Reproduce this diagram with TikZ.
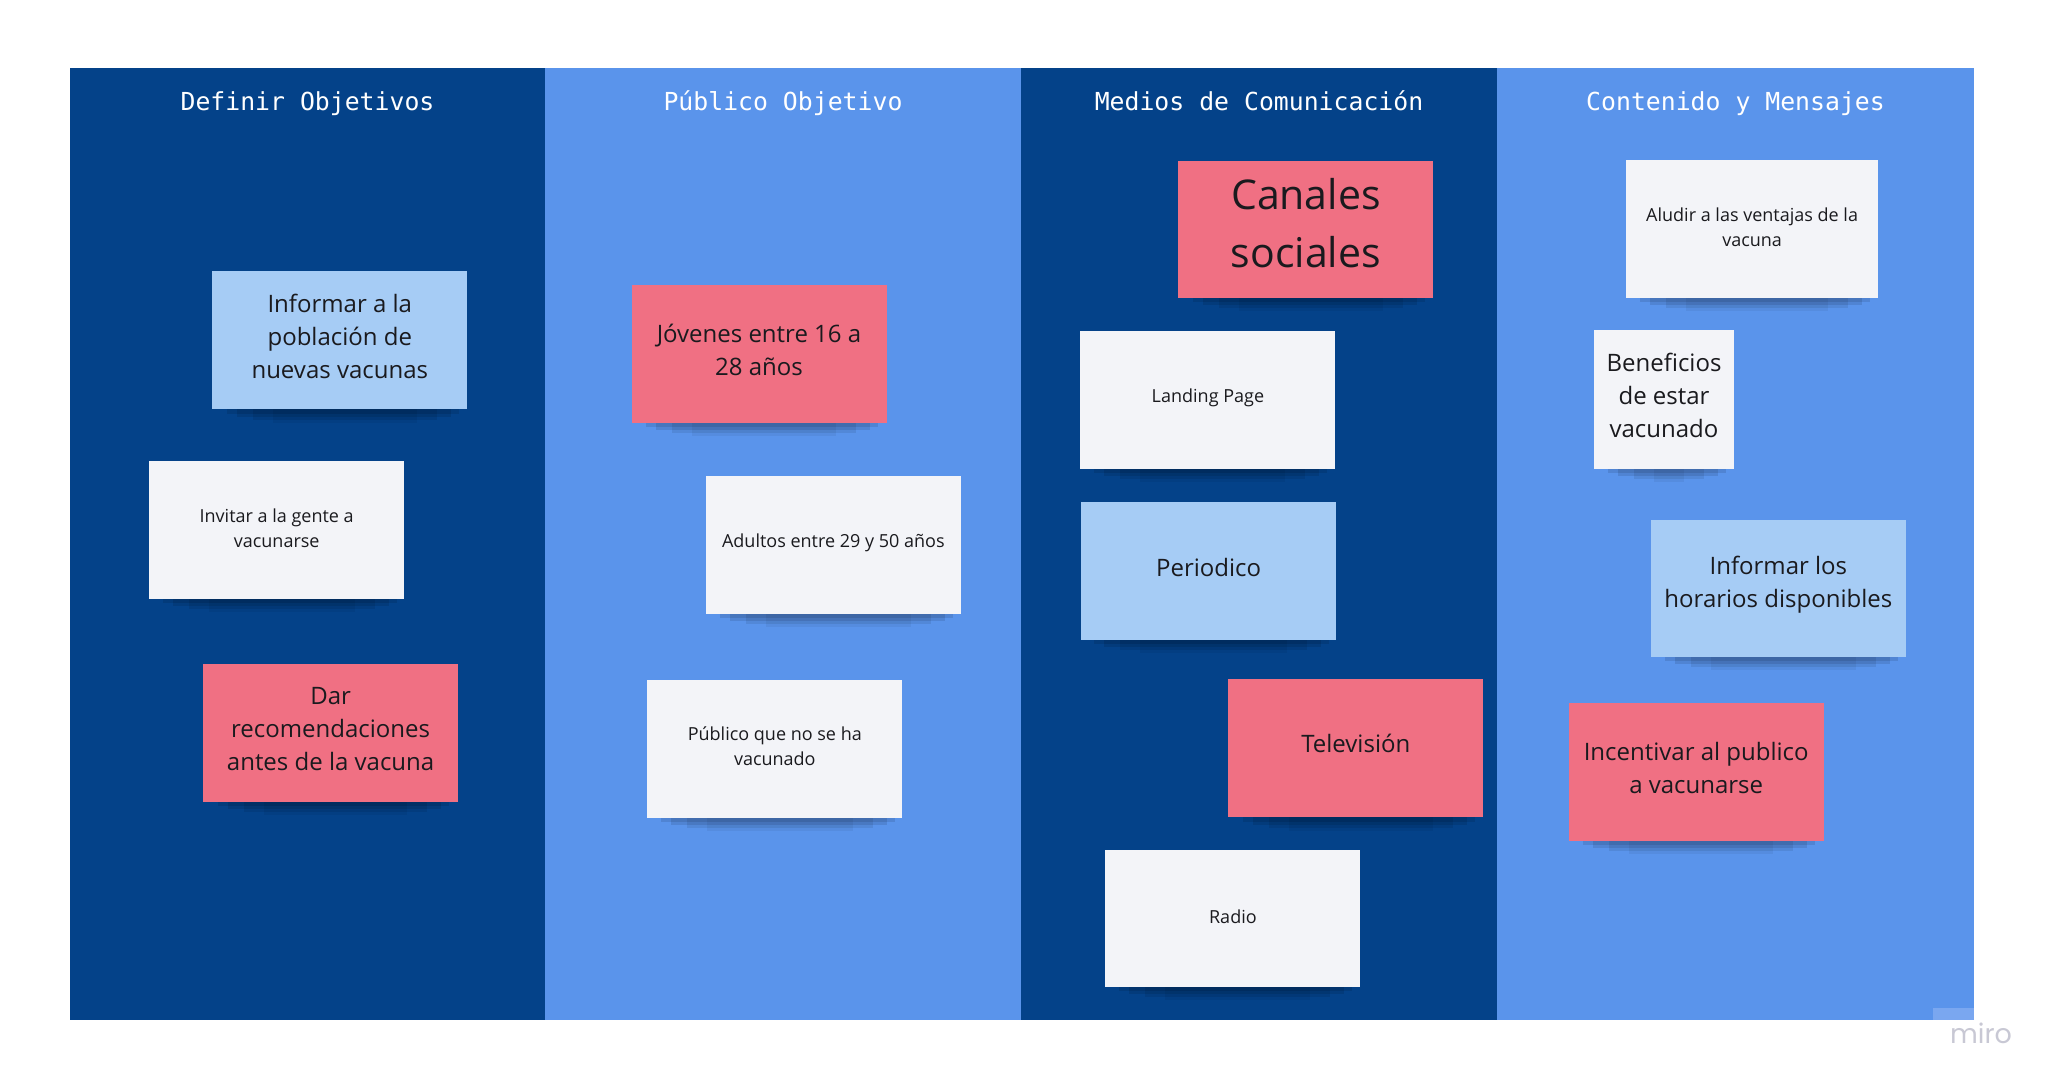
\documentclass[tikz,border=0pt]{standalone}
\usepackage{fontspec}
\setmainfont{Open Sans}
\newfontfamily\hdrfont{DejaVu Sans Mono}
\newfontfamily\mirofont{Poppins}
\definecolor{darkcol}{RGB}{4,66,137}
\definecolor{lightcol}{RGB}{90,148,235}
\definecolor{notepink}{RGB}{240,112,131}
\definecolor{noteblue}{RGB}{166,204,245}
\definecolor{notewhite}{RGB}{243,244,248}
\definecolor{notetext}{RGB}{26,26,30}
\definecolor{mirogray}{RGB}{200,200,212}
\definecolor{cornerblue}{RGB}{122,167,240}
\tikzset{
  column/.style={fill=#1, draw=none},
  hdr/.style={text=white, font=\hdrfont\fontsize{24.8}{28}\selectfont, anchor=base, inner sep=0pt},
  note/.style={fill=#1, draw=none, minimum width=255pt, minimum height=138pt, inner sep=0pt, anchor=center},
  notelabel/.style={align=center, text=notetext, anchor=center, inner sep=0pt},
  smalltxt/.style={font=\fontsize{18}{25}\selectfont, yshift=2pt},
  midtxt/.style={font=\fontsize{24}{33}\selectfont, yshift=4pt},
  bigtxt/.style={font=\fontsize{41}{58}\selectfont, yshift=6.5pt},
}
\newcommand{\noteshadow}[3]{%
  \fill[black, opacity=0.10] (#1+14,#3-3) rectangle (#2-8,#3+4);
  \fill[black, opacity=0.10] (#1+24,#3-3) rectangle (#2-16,#3+7);
  \fill[black, opacity=0.08] (#1+40,#3-3) rectangle (#2-30,#3+10);
  \fill[black, opacity=0.05] (#1+60,#3-3) rectangle (#2-50,#3+13);
}
% #1 name, #2 x, #3 y, #4 fill colour, #5 extra note options, #6 text style, #7 text
\newcommand{\sticky}[7]{%
  \node[note=#4, #5] (#1) at (#2,#3) {};
  \node[notelabel, #6] (#1t) at (#1.center) {#7};
}
\begin{document}
\begin{tikzpicture}[x=1pt,y=-1pt]
\useasboundingbox (0,0) rectangle (2061,1091);
\fill[white] (0,0) rectangle (2061,1091);
% columns
\fill[column=darkcol] (70,68) rectangle (545,1020);
\fill[column=lightcol] (545,68) rectangle (1021,1020);
\fill[column=darkcol] (1021,68) rectangle (1497,1020);
\fill[column=lightcol] (1497,68) rectangle (1974,1020);
\fill[cornerblue] (1933,1008) rectangle (1974,1020);
% headers
\node[hdr] (h1) at (307.5,110.5) {Definir Objetivos};
\node[hdr] (h2) at (783,110.5) {Público Objetivo};
\node[hdr] (h3) at (1259,110.5) {Medios de Comunicación};
\node[hdr] (h4) at (1735.5,110.5) {Contenido y Mensajes};
% shadows
\noteshadow{213}{467}{410}
\noteshadow{149}{405}{599}
\noteshadow{204}{457}{802}
\noteshadow{632}{886}{423}
\noteshadow{706}{961}{614}
\noteshadow{647}{903}{818}
\noteshadow{1179}{1433}{298}
\noteshadow{1080}{1335}{469}
\noteshadow{1080}{1337}{640}
\noteshadow{1229}{1483}{818}
\noteshadow{1105}{1360}{987}
\noteshadow{1626}{1878}{298}
\noteshadow{1594}{1734}{469}
\noteshadow{1651}{1906}{657}
\noteshadow{1569}{1823}{841}
% column 1
\sticky{n1}{339.8}{340.4}{noteblue}{}{midtxt}{Informar a la\\población de\\nuevas vacunas}
\sticky{n2}{276.7}{530.4}{notewhite}{}{smalltxt}{Invitar a la gente a\\vacunarse}
\sticky{n3}{330.6}{732.8}{notepink}{}{midtxt}{Dar\\recomendaciones\\antes de la vacuna}
% column 2
\sticky{n4}{759}{353.6}{notepink}{}{midtxt}{Jóvenes entre 16 a\\28 años}
\sticky{n5}{833.3}{544.8}{notewhite}{}{smalltxt}{Adultos entre 29 y 50 años}
\sticky{n6}{774.8}{748.6}{notewhite}{}{smalltxt}{Público que no se ha\\vacunado}
% column 3
\sticky{n7}{1305.9}{230}{notepink}{minimum height=137pt}{bigtxt}{Canales\\sociales}
\sticky{n8}{1207.9}{400.2}{notewhite}{}{smalltxt}{Landing Page}
\sticky{n9}{1208.6}{571.1}{noteblue}{}{midtxt}{Periodico}
\sticky{n10}{1355.8}{747.9}{notepink}{}{midtxt}{Televisión}
\sticky{n11}{1232.9}{918.8}{notewhite}{minimum height=137pt}{smalltxt}{Radio}
% column 4
\sticky{n12}{1752.1}{229.4}{notewhite}{minimum width=252pt}{smalltxt}{Aludir a las ventajas de la\\vacuna}
\sticky{n13}{1664}{399.6}{notewhite}{minimum width=140pt, minimum height=139pt}{midtxt}{Beneficios\\de estar\\vacunado}
\sticky{n14}{1778.4}{588.9}{noteblue}{minimum height=137pt}{midtxt}{Informar los\\horarios disponibles}
\sticky{n15}{1696.2}{772.2}{notepink}{}{midtxt}{Incentivar al publico\\a vacunarse}
% logo
\node[text=mirogray, font=\mirofont\fontsize{27}{30}\selectfont, inner sep=0pt, anchor=center] (logo) at (1981,1033) {miro};
\end{tikzpicture}
\end{document}
